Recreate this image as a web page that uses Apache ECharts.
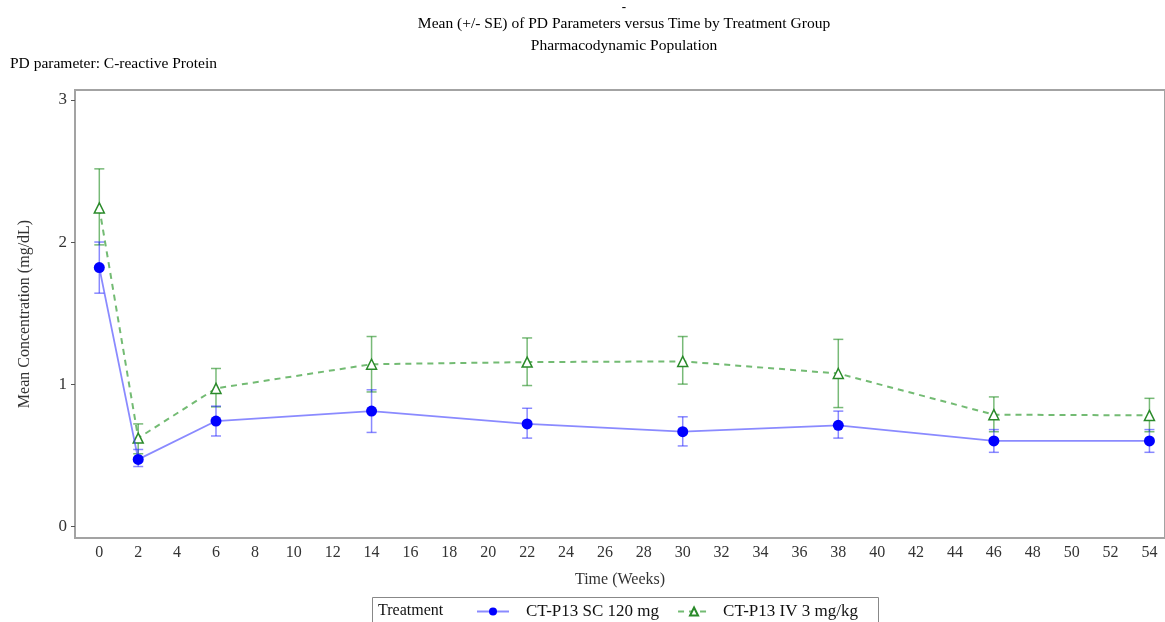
<!DOCTYPE html>
<html>
<head>
<meta charset="utf-8">
<script src="https://cdn.jsdelivr.net/npm/echarts@6/dist/echarts.min.js"></script>
<style>
  html, body { margin: 0; padding: 0; background: #fff; }
  #chart { width: 1165px; height: 622px; }
</style>
</head>
<body>
<div id="chart"></div>
<script>
// Visit weeks and per-group mean CRP with +/- SE bounds (mg/dL)
const weeks = [0, 2, 6, 14, 22, 30, 38, 46, 54];
const scMean  = [1.82, 0.47, 0.74, 0.81, 0.72, 0.665, 0.71, 0.60, 0.60];
const scUpper = [2.00, 0.54, 0.845, 0.96, 0.83, 0.77, 0.81, 0.68, 0.68];
const scLower = [1.64, 0.42, 0.635, 0.66, 0.62, 0.565, 0.62, 0.52, 0.52];
const ivMean  = [2.24, 0.62, 0.97, 1.14, 1.155, 1.16, 1.075, 0.785, 0.78];
const ivUpper = [2.515, 0.72, 1.11, 1.335, 1.325, 1.335, 1.315, 0.91, 0.90];
const ivLower = [1.98, 0.51, 0.84, 0.945, 0.99, 1.0, 0.835, 0.665, 0.665];
const xTicks = [0,2,4,6,8,10,12,14,16,18,20,22,24,26,28,30,32,34,36,38,40,42,44,46,48,50,52,54];
const yTicks = [0, 1, 2, 3];
const groupNames = ['CT-P13 SC 120 mg', 'CT-P13 IV 3 mg/kg'];

const serif = 'Liberation Serif';
const axisGray = '#a3a3a3';
const textColor = '#333';

function pairs(xs, ys) { return xs.map((x, i) => [x, ys[i]]); }
function bars(xs, lo, hi) { return xs.map((x, i) => [x, lo[i], hi[i]]); }

function errorBarSeries(data, color) {
  return {
    type: 'custom',
    silent: true,
    data: data,
    encode: { x: 0, y: [1, 2] },
    z: 2,
    renderItem: function (params, api) {
      const x = api.value(0);
      const lo = api.coord([x, api.value(1)]);
      const hi = api.coord([x, api.value(2)]);
      const hw = 5;
      const style = { stroke: color, lineWidth: 1.5 };
      return {
        type: 'group',
        children: [
          { type: 'line', shape: { x1: lo[0], y1: lo[1], x2: hi[0], y2: hi[1] }, style: style },
          { type: 'line', shape: { x1: hi[0] - hw, y1: hi[1], x2: hi[0] + hw, y2: hi[1] }, style: style },
          { type: 'line', shape: { x1: lo[0] - hw, y1: lo[1], x2: lo[0] + hw, y2: lo[1] }, style: style }
        ]
      };
    }
  };
}

const chart = echarts.init(document.getElementById('chart'));
chart.setOption({
  animation: false,
  backgroundColor: '#fff',
  title: [
    { text: '-', left: 624, top: 1, padding: 0, textAlign: 'center',
      textStyle: { fontFamily: serif, fontSize: 13, fontWeight: 'bold', color: '#000' } },
    { text: 'Mean (+/- SE) of PD Parameters versus Time by Treatment Group', left: 624, top: 16, padding: 0, textAlign: 'center',
      textStyle: { fontFamily: serif, fontSize: 15.5, fontWeight: 'normal', color: '#000' } },
    { text: 'Pharmacodynamic Population', left: 624, top: 38, padding: 0, textAlign: 'center',
      textStyle: { fontFamily: serif, fontSize: 15.5, fontWeight: 'normal', color: '#000' } },
    { text: 'PD parameter: C-reactive Protein', left: 10, top: 56, padding: 0,
      textStyle: { fontFamily: serif, fontSize: 15.5, fontWeight: 'normal', color: '#000' } }
  ],
  grid: {
    left: 75, top: 90, right: -3, bottom: 84,
    show: true, borderColor: axisGray, borderWidth: 2, backgroundColor: 'transparent'
  },
  legend: {
    left: 476, top: 603,
    itemWidth: 32, itemHeight: 10, itemGap: 18,
    padding: 0,
    data: [
      { name: groupNames[0] },
      { name: groupNames[1], textStyle: { padding: [0, 0, 0, 8] } }
    ],
    textStyle: { fontFamily: serif, fontSize: 17, color: '#111', padding: [0, 0, 0, 12] }
  },
  graphic: [
    { type: 'rect', shape: { x: 372.5, y: 597.5, width: 506, height: 40 },
      style: { fill: 'none', stroke: '#888', lineWidth: 1 } },
    { type: 'text', left: 378, top: 603,
      style: { text: 'Treatment', font: '16px "Liberation Serif"', fill: '#111' } }
  ],
  xAxis: {
    type: 'value', min: -1.25, max: 54.8,
    name: 'Time (Weeks)', nameLocation: 'middle', nameGap: 34,
    nameTextStyle: { fontFamily: serif, fontSize: 16, color: textColor },
    axisLine: { show: true, onZero: false, lineStyle: { color: axisGray, width: 2 } },
    axisTick: { show: false },
    splitLine: { show: false },
    axisLabel: {
      customValues: xTicks, margin: 7,
      fontFamily: serif, fontSize: 16, color: textColor
    }
  },
  yAxis: {
    type: 'value', min: -0.083, max: 3.07,
    name: 'Mean Concentration (mg/dL)', nameLocation: 'middle', nameGap: 42,
    nameTextStyle: { fontFamily: serif, fontSize: 16, color: textColor },
    axisLine: { show: true, onZero: false, lineStyle: { color: axisGray, width: 2 } },
    axisTick: { show: true, customValues: yTicks, length: 4, lineStyle: { color: '#555' } },
    splitLine: { show: false },
    axisLabel: {
      customValues: yTicks, margin: 8,
      fontFamily: serif, fontSize: 17, color: textColor
    }
  },
  series: [
    errorBarSeries(bars(weeks, ivLower, ivUpper), 'rgba(30,140,30,0.6)'),
    errorBarSeries(bars(weeks, scLower, scUpper), 'rgba(40,40,255,0.55)'),
    {
      name: groupNames[1], type: 'line', z: 3,
      data: pairs(weeks, ivMean),
      symbol: 'triangle', symbolSize: 10,
      itemStyle: { color: '#fff', borderColor: '#2a8a2a', borderWidth: 1.5 },
      lineStyle: { color: 'rgba(40,150,40,0.65)', width: 2, type: [6, 5] }
    },
    {
      name: groupNames[0], type: 'line', z: 4,
      data: pairs(weeks, scMean),
      symbol: 'circle', symbolSize: 11,
      itemStyle: { color: '#0000ff', borderWidth: 0 },
      lineStyle: { color: 'rgba(60,60,255,0.6)', width: 1.8 }
    }
  ]
});
</script>
</body>
</html>
